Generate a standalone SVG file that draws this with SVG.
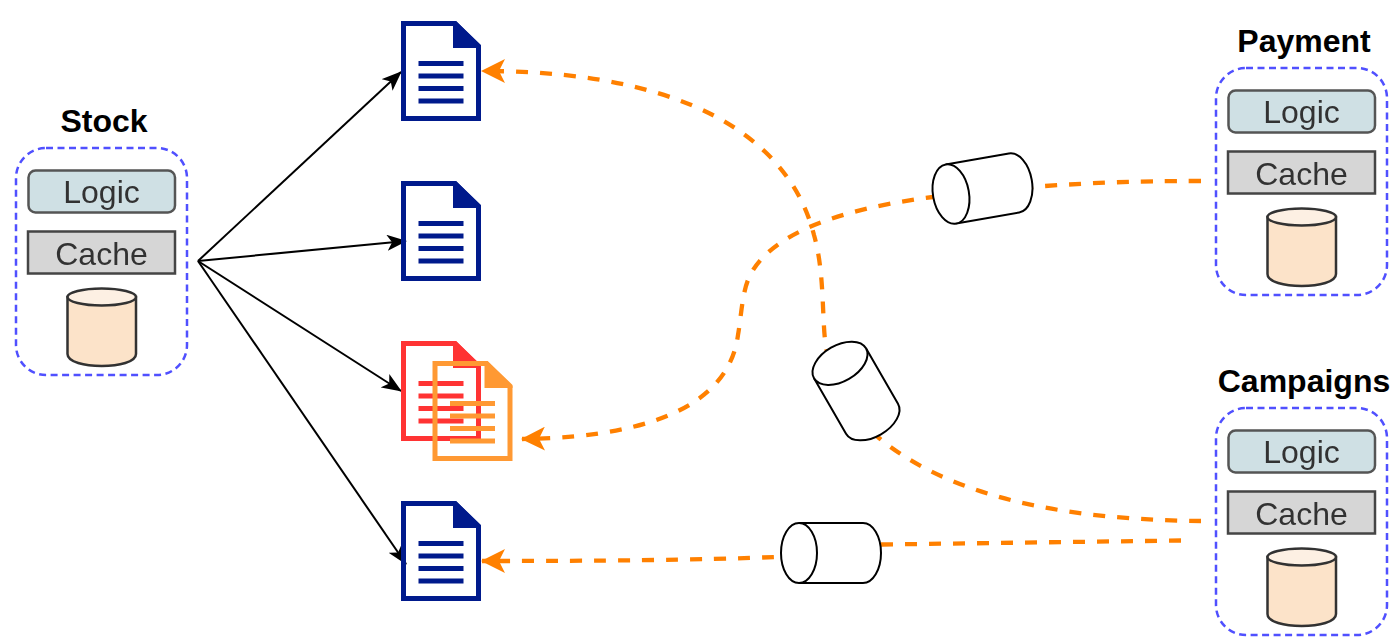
<svg xmlns="http://www.w3.org/2000/svg" width="1400" height="642" viewBox="0 0 1400 642">
<style>
text{font-family:"Liberation Sans",Arial,sans-serif}
.title{font-size:32px;font-weight:700;fill:#000;text-anchor:middle}
.lbl{font-size:32px;fill:#333;text-anchor:middle}
.soft{filter:url(#soft)}
.frame{fill:none;stroke:#5050ff;stroke-width:2.500;stroke-dasharray:7 4.500}
.logic{fill:#cfe0e4;stroke:#555;stroke-width:2.500}
.cache{fill:#d6d6d6;stroke:#444;stroke-width:2.500}
.db{fill:#fce3c9;stroke:#333;stroke-width:2.500}
.dbtop{fill:#fdf0e3;stroke:#333;stroke-width:2.500}
.sharp{fill:none;stroke:#000;stroke-width:2}
.flow{fill:none;stroke:#ff8000;stroke-width:4.300;stroke-dasharray:12 12}
.cyl{fill:#fff;stroke:#000;stroke-width:2}
.navy{color:#001a8c}.red{color:#ff3333}.amber{color:#ff9933}
</style>
<defs>
<filter id="soft" x="-5%" y="-5%" width="110%" height="110%"><feGaussianBlur stdDeviation="0.500"/></filter>
<marker id="ab" viewBox="0 0 20 16" refX="19" refY="8" markerWidth="20" markerHeight="16" markerUnits="userSpaceOnUse" orient="auto"><path d="M0 0L20 8L0 16L5 8Z" fill="#000"/></marker>
<marker id="ao" viewBox="0 0 24 24" refX="23" refY="12" markerWidth="24" markerHeight="24" markerUnits="userSpaceOnUse" orient="auto"><path d="M0 0L24 12L0 24L6 12Z" fill="#ff8000"/></marker>
<g id="doc"><path d="M403.500 23.500H455L478.500 46V118.500H403.500Z" fill="none" stroke="currentColor" stroke-width="5"/><path d="M453 21H456L481 46V48H453Z" fill="currentColor"/><path d="M418.500 61H463.500V66H418.500ZM418.500 73.500H463.500V78.500H418.500ZM418.500 86H463.500V91H418.500ZM418.500 98.500H463.500V103.500H418.500Z" fill="currentColor"/></g>
<g id="service"><rect class="frame" x="16" y="148" width="171" height="227" rx="30"/><g class="soft"><rect class="logic" x="28.500" y="170.500" width="146.500" height="42" rx="7"/><rect class="cache" x="28" y="231.500" width="147" height="42"/><text class="lbl" x="101.500" y="202.500">Logic</text><text class="lbl" x="101.500" y="264.500">Cache</text><path class="db" d="M67.500 297V354C67.500 370 136 370 136 354V297Z"/><ellipse class="dbtop" cx="101.750" cy="297" rx="34.250" ry="8.500"/></g></g>
<g id="cylinder"><path class="cyl" d="M-32 -30H32A18 30 0 0 1 32 30H-32"/><ellipse class="cyl" cx="-32" cy="0" rx="18" ry="30"/></g>
</defs>
<g id="connectors">
<path class="sharp" d="M198 261L401 72" marker-end="url(#ab)"/>
<path class="sharp" d="M198 261L406 241" marker-end="url(#ab)"/>
<path class="sharp" d="M198 261L401 391" marker-end="url(#ab)"/>
<path class="sharp" d="M198 261L406 564" marker-end="url(#ab)"/>
<path class="flow" d="M1201 181C1130 181 1090 183 1045 186L933 197C870 205 770 225 748 280C742 295 741 318 738 335C730 395 670 437 522 439" marker-end="url(#ao)"/>
<path class="flow" d="M1201 521C1090 520 960 505 879 438C850 414 830 380 825 340C822 310 824 270 814 235C795 160 720 71 482 71" marker-end="url(#ao)"/>
<path class="flow" d="M1181 540.500L882 544.500C850 545 820 554 776 557C700 560 600 561 482 561" marker-end="url(#ao)"/>
</g>
<g id="doc1" class="navy"><use href="#doc"/></g>
<g id="doc2" class="navy"><use href="#doc" y="160"/></g>
<g id="doc3" class="red"><use href="#doc" y="320"/></g>
<g id="doc4" class="amber"><use href="#doc" x="31.500" y="340"/></g>
<g id="doc5" class="navy"><use href="#doc" y="480"/></g>
<g id="stock"><text class="title" x="104" y="132">Stock</text><use href="#service"/></g>
<g id="payment"><text class="title" x="1304" y="52">Payment</text><use href="#service" x="1200" y="-80"/></g>
<g id="campaigns"><text class="title" x="1304" y="392">Campaigns</text><use href="#service" x="1200" y="260"/></g>
<g id="queue1"><use href="#cylinder" transform="translate(982.500 188.500) rotate(-10)"/></g>
<g id="queue2"><use href="#cylinder" transform="translate(856 391) rotate(60)"/></g>
<g id="queue3"><use href="#cylinder" transform="translate(831 553)"/></g>
</svg>
